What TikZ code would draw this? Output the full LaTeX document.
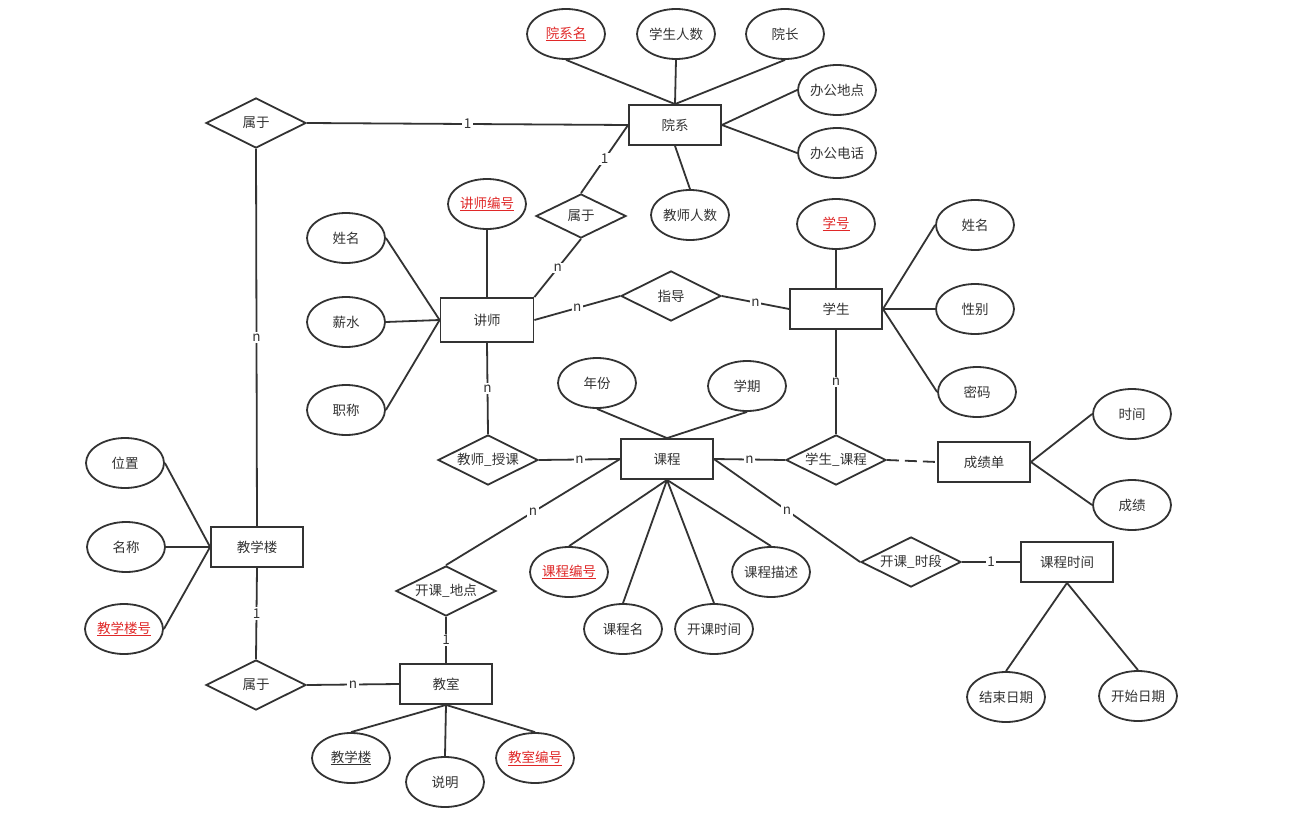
\documentclass[tikz,border=0pt]{standalone}
\usepackage{fontspec}
\setmainfont{Noto Sans CJK SC}
\usetikzlibrary{shapes.geometric}
\definecolor{ln}{HTML}{333333}
\definecolor{kred}{HTML}{E02828}
\newcommand\pkey[1]{\textcolor{kred}{\underline{#1}}}
\newcommand\ukey[1]{\underline{#1}}
\begin{document}
\begin{tikzpicture}[x=1pt,y=-1pt,color=ln,line width=1.8pt,
  attr/.style={ellipse,draw,minimum width=78pt,minimum height=50pt,inner sep=0pt,font=\fontsize{13.5}{13.5}\selectfont},
  ent/.style={rectangle,draw,minimum width=92pt,minimum height=40pt,inner sep=0pt,font=\fontsize{13.5}{13.5}\selectfont},
  rel/.style={diamond,draw,aspect=2,minimum width=100pt,minimum height=50pt,inner sep=0pt,font=\fontsize{13.5}{13.5}\selectfont},
  lab/.style={fill=white,inner sep=1.5pt,font=\fontsize{13.5}{13.5}\selectfont}]
\useasboundingbox[fill=white] (0,0) rectangle (1290,832);
% entities
\node[ent] (yx) at (675,125) {院系};
\node[ent,minimum height=44pt,minimum width=93pt] (js) at (487,320) {讲师};
\node[ent] (xs) at (836,309) {学生};
\node[ent] (kc) at (667,459) {课程};
\node[ent] (cjd) at (984,462) {成绩单};
\node[ent] (kcsj) at (1067,562) {课程时间};
\node[ent] (jsh) at (446,684) {教室};
\node[ent] (jxl) at (257,547) {教学楼};
% relations
\node[rel] (sy1) at (256,123) {属于};
\node[rel,minimum width=90pt,minimum height=44pt] (sy2) at (581,216) {属于};
\node[rel] (zd) at (671,296) {指导};
\node[rel] (jssk) at (488,460) {教师\_授课};
\node[rel] (xskc) at (836,460) {学生\_课程};
\node[rel] (kksd) at (911,562) {开课\_时段};
\node[rel] (kkdd) at (446,591) {开课\_地点};
\node[rel] (sy3) at (256,685) {属于};
% attributes
\node[attr] (a1) at (566,34) {\pkey{院系名}};
\node[attr] (a2) at (676,34) {学生人数};
\node[attr] (a3) at (785,34) {院长};
\node[attr] (a4) at (837,90) {办公地点};
\node[attr] (a5) at (837,153) {办公电话};
\node[attr] (a6) at (690,215) {教师人数};
\node[attr] (b1) at (487,204) {\pkey{讲师编号}};
\node[attr] (b2) at (346,238) {姓名};
\node[attr] (b3) at (346,322) {薪水};
\node[attr] (b4) at (346,410) {职称};
\node[attr] (c1) at (836,224) {\pkey{学号}};
\node[attr] (c2) at (975,225) {姓名};
\node[attr] (c3) at (975,309) {性别};
\node[attr] (c4) at (977,392) {密码};
\node[attr] (d1) at (597,383) {年份};
\node[attr] (d2) at (747,386) {学期};
\node[attr] (d3) at (569,572) {\pkey{课程编号}};
\node[attr] (d4) at (623,629) {课程名};
\node[attr] (d5) at (714,629) {开课时间};
\node[attr] (d6) at (771,572) {课程描述};
\node[attr] (e1) at (1132,414) {时间};
\node[attr] (e2) at (1132,505) {成绩};
\node[attr] (f1) at (1006,697) {结束日期};
\node[attr] (f2) at (1138,696) {开始日期};
\node[attr] (g1) at (351,758) {\ukey{教学楼}};
\node[attr] (g2) at (445,782) {说明};
\node[attr] (g3) at (535,758) {\pkey{教室编号}};
\node[attr] (h1) at (125,463) {位置};
\node[attr] (h2) at (126,547) {名称};
\node[attr] (h3) at (124,629) {\pkey{教学楼号}};
% attribute lines
\foreach \a in {a1,a2,a3} \draw (\a.south) -- (yx.north);
\foreach \a in {a4,a5} \draw (\a.west) -- (yx.east);
\draw (a6.north) -- (yx.south);
\draw (b1.south) -- (js.north);
\foreach \a in {b2,b3,b4} \draw (\a.east) -- (js.west);
\draw (c1.south) -- (xs.north);
\foreach \a in {c2,c3,c4} \draw (\a.west) -- (xs.east);
\foreach \a in {d1,d2} \draw (\a.south) -- (kc.north);
\foreach \a in {d3,d4,d5,d6} \draw (\a.north) -- (kc.south);
\foreach \a in {e1,e2} \draw (\a.west) -- (cjd.east);
\foreach \a in {f1,f2} \draw (\a.north) -- (kcsj.south);
\foreach \a in {g1,g2,g3} \draw (\a.north) -- (jsh.south);
\foreach \a in {h1,h2,h3} \draw (\a.east) -- (jxl.west);
% relationship lines
\draw (sy1.east) -- node[lab]{1} (yx.west);
\draw (sy1.south) -- node[lab]{n} (jxl.north);
\draw (yx.west) -- node[lab]{1} (sy2.north);
\draw (sy2.south) -- node[lab]{n} (js.north east);
\draw (js.east) -- node[lab]{n} (zd.west);
\draw (zd.east) -- node[lab]{n} (xs.west);
\draw (xs.south) -- node[lab]{n} (xskc.north);
\draw (js.south) -- node[lab]{n} (jssk.north);
\draw (jssk.east) -- node[lab]{n} (kc.west);
\draw (kc.east) -- node[lab]{n} (xskc.west);
\draw[dash pattern=on 12pt off 6pt] (xskc.east) -- (cjd.west);
\draw (kc.east) -- node[lab]{n} (kksd.west);
\draw (kksd.east) -- node[lab]{1} (kcsj.west);
\draw (kc.west) -- node[lab]{n} (kkdd.north);
\draw (kkdd.south) -- node[lab]{1} (jsh.north);
\draw (sy3.east) -- node[lab]{n} (jsh.west);
\draw (jxl.south) -- node[lab]{1} (sy3.north);
\end{tikzpicture}
\end{document}
